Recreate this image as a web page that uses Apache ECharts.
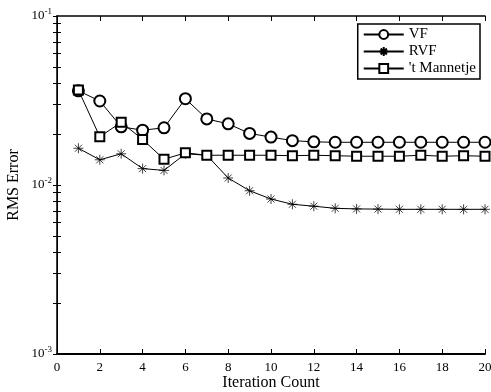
<!DOCTYPE html>
<html>
<head>
<meta charset="utf-8">
<script src="https://cdn.jsdelivr.net/npm/echarts@6/dist/echarts.min.js"></script>
<style>
  html, body { margin: 0; padding: 0; background: #fff; }
  #chart { width: 491px; height: 392px; }
</style>
</head>
<body>
<div id="chart"></div>
<script>
const iterations = [1, 2, 3, 4, 5, 6, 7, 8, 9, 10, 11, 12, 13, 14, 15, 16, 17, 18, 19, 20]
const vfError = [0.0361, 0.0314, 0.0221, 0.0211, 0.0218, 0.0324, 0.0246, 0.0230, 0.0202, 0.0192,
  0.0183, 0.0180, 0.0179, 0.0179, 0.0179, 0.0179, 0.0179, 0.0179, 0.0179, 0.0179]
const rvfError = [0.0165, 0.0141, 0.0153, 0.0125, 0.0122, 0.0153, 0.0150, 0.0110, 0.00925, 0.00826,
  0.00769, 0.00749, 0.00728, 0.00722, 0.00720, 0.00718, 0.00718, 0.00718, 0.00718, 0.00718]
const mannetjeError = [0.0365, 0.0193, 0.0235, 0.0186, 0.0142, 0.0155, 0.0150, 0.0150, 0.0150, 0.0150,
  0.0149, 0.0150, 0.0149, 0.0148, 0.0148, 0.0148, 0.0150, 0.0148, 0.0149, 0.0148]
const seriesNames = ['VF', 'RVF', "'t Mannetje"]
const xTicks = [0, 2, 4, 6, 8, 10, 12, 14, 16, 18, 20]

const FONT = 'Liberation Serif'
const ASTERISK = 'path://M5,0L5,10M0,5L10,5M1.5,1.5L8.5,8.5M1.5,8.5L8.5,1.5'

// minor ticks for the log axis: 1..9 x each decade
const logTicks = []
for (const d of [0.001, 0.01]) {
  for (let k = 1; k <= 9; k++) logTicks.push(+(k * d).toPrecision(3))
}
logTicks.push(0.1)

const chart = echarts.init(document.getElementById('chart'))

function makeSeries(name, values, symbol, size) {
  return {
    name,
    type: 'line',
    data: iterations.map((x, i) => [x, values[i]]),
    symbol,
    symbolSize: size,
    showAllSymbol: true,
    lineStyle: { color: '#000', width: 1 },
    itemStyle: { color: '#000', borderColor: '#000', borderWidth: 0.75 },
    emphasis: { disabled: true },
  }
}

const option = {
  animation: false,
  textStyle: { fontFamily: FONT, color: '#000' },
  grid: { left: 57, right: 6, top: 16, bottom: 38, outerBoundsMode: 'none' },
  legend: {
    orient: 'vertical',
    right: 11,
    top: 24,
    itemWidth: 40,
    itemHeight: 11,
    itemGap: 0,
    padding: [2, 4, 2, 5],
    backgroundColor: '#fff',
    borderColor: '#000',
    borderWidth: 1.5,
    textStyle: { fontFamily: FONT, fontSize: 15, color: '#000', lineHeight: 17 },
    data: seriesNames,
  },
  xAxis: [
    {
      type: 'value',
      min: 0,
      max: 20,
      interval: 2,
      name: 'Iteration Count',
      nameLocation: 'middle',
      nameGap: 21,
      nameMoveOverlap: false,
      nameTextStyle: { fontFamily: FONT, fontSize: 16, color: '#000' },
      axisLine: { show: true, lineStyle: { color: '#000', width: 2 } },
      axisTick: { inside: true, length: 5, lineStyle: { color: '#000' } },
      axisLabel: { fontFamily: FONT, fontSize: 13, color: '#000', margin: 7,
        customValues: xTicks },
      splitLine: { show: false },
    },
    {
      type: 'value',
      position: 'top',
      min: 0,
      max: 20,
      interval: 2,
      axisLine: { show: true, lineStyle: { color: '#000', width: 1.5 } },
      axisTick: { inside: true, length: 5, lineStyle: { color: '#000' } },
      axisLabel: { show: false },
      splitLine: { show: false },
    },
  ],
  yAxis: [
    {
      type: 'log',
      logBase: 10,
      min: 0.001,
      max: 0.1,
      name: 'RMS Error',
      nameLocation: 'middle',
      nameGap: 35,
      nameMoveOverlap: false,
      nameTextStyle: { fontFamily: FONT, fontSize: 16, color: '#000' },
      axisLine: { show: true, lineStyle: { color: '#000', width: 1.5 } },
      axisTick: { inside: true, length: 4, lineStyle: { color: '#000' }, customValues: logTicks },
      axisLabel: {
        margin: 5,
        formatter: (v) => '{b|10}{s|' + Math.round(Math.log10(v)) + '}',
        rich: {
          b: { fontFamily: FONT, fontSize: 13, color: '#000' },
          s: { fontFamily: FONT, fontSize: 9, color: '#000', verticalAlign: 'top', padding: [0, 0, 9, 0] },
        },
      },
      splitLine: { show: false },
    },
    {
      type: 'log',
      logBase: 10,
      min: 0.001,
      max: 0.1,
      position: 'right',
      axisLine: { show: true, lineStyle: { color: '#000', width: 1 } },
      axisTick: { inside: true, length: 4, lineStyle: { color: '#000' }, customValues: logTicks },
      axisLabel: { show: false },
      splitLine: { show: false },
    },
  ],
  series: [
    makeSeries(seriesNames[0], vfError, 'emptyCircle', 11),
    makeSeries(seriesNames[1], rvfError, ASTERISK, 10),
    makeSeries(seriesNames[2], mannetjeError, 'emptyRect', 9),
  ],
}

chart.setOption(option)
</script>
</body>
</html>
